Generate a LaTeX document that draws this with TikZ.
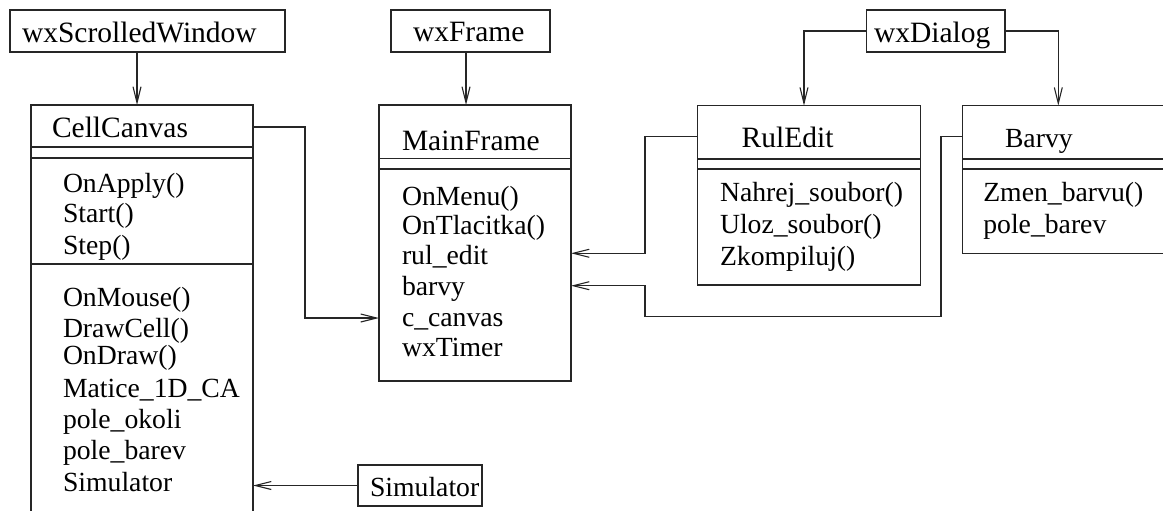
\documentclass[tikz,border=0pt]{standalone}
\usepackage{fontspec}
\setmainfont{Liberation Serif}
\usetikzlibrary{arrows.meta}
\newcommand\namefont{\fontsize{29.5}{35}\selectfont}
\newcommand\memberfont{\fontsize{27.7}{33}\selectfont}
\tikzset{
  ln/.style={line width=1.2pt, draw=black!85},
  classbox/.style={ln, rectangle, inner sep=0pt, outer sep=0pt, anchor=north west},
  txt/.style={anchor=base west, inner sep=0pt, outer sep=0pt},
  title/.style={txt, font=\namefont},
  member/.style={txt, font=\memberfont},
  conn/.style={ln, -{Straight Barb[length=16pt,width=8pt,line width=1.1pt]}},
}
\begin{document}
\begin{tikzpicture}[x=1pt,y=-1pt]
\useasboundingbox (0,0) rectangle (1163,511);
\clip (0,0) rectangle (1163,511);

% base classes
\node[classbox, minimum width=275pt, minimum height=42pt] (wxsw) at (10,10) {};
\node[title] (wxswT) at (22,42.3) {wxScrolledWindow};
\node[classbox, minimum width=159pt, minimum height=42pt] (wxframe) at (391,10) {};
\node[title] (wxframeT) at (413,41.7) {wxFrame};
\node[classbox, minimum width=138.3pt, minimum height=42pt] (wxdialog) at (866.7,10) {};
\node[title] (wxdialogT) at (874,42.7) {wxDialog};

% CellCanvas
\node[classbox, minimum width=222pt, minimum height=440pt] (cellcanvas) at (31,105) {};
\draw[ln] ([yshift=-42pt]cellcanvas.north west) -- ([yshift=-42pt]cellcanvas.north east);
\draw[ln] ([yshift=-53pt]cellcanvas.north west) -- ([yshift=-53pt]cellcanvas.north east);
\draw[ln] ([yshift=-159pt]cellcanvas.north west) -- ([yshift=-159pt]cellcanvas.north east);
\node[title] (ccT) at (52,137.3) {CellCanvas};
\node[member] (cc1) at (63,192) {OnApply()};
\node[member] (cc2) at (63,222.7) {Start()};
\node[member] (cc3) at (63,254) {Step()};
\node[member] (cc4) at (63,306.7) {OnMouse()};
\node[member] (cc5) at (63,337.3) {DrawCell()};
\node[member] (cc6) at (63,364.3) {OnDraw()};
\node[member] (cc7) at (63,397.3) {Matice\_1D\_CA};
\node[member] (cc8) at (63,428.3) {pole\_okoli};
\node[member] (cc9) at (63,459.3) {pole\_barev};
\node[member] (cc10) at (63,491.7) {Simulator};

% MainFrame
\node[classbox, minimum width=192pt, minimum height=276pt] (mainframe) at (379,105) {};
\draw[ln] ([yshift=-53.3pt]mainframe.north west) -- ([yshift=-53.3pt]mainframe.north east);
\draw[ln] ([yshift=-64pt]mainframe.north west) -- ([yshift=-64pt]mainframe.north east);
\node[title] (mfT) at (402,150) {MainFrame};
\node[member] (mf1) at (402,205) {OnMenu()};
\node[member] (mf2) at (402,234) {OnTlacitka()};
\node[member] (mf3) at (402,264) {rul\_edit};
\node[member] (mf4) at (402,295) {barvy};
\node[member] (mf5) at (402,326) {c\_canvas};
\node[member] (mf6) at (402,356.7) {wxTimer};

% RulEdit
\node[classbox, minimum width=223pt, minimum height=179.3pt] (ruledit) at (697.7,105.7) {};
\draw[ln] ([yshift=-53.3pt]ruledit.north west) -- ([yshift=-53.3pt]ruledit.north east);
\draw[ln] ([yshift=-63.3pt]ruledit.north west) -- ([yshift=-63.3pt]ruledit.north east);
\node[title] (reT) at (741.7,147.7) {RulEdit};
\node[member] (re1) at (720,201.7) {Nahrej\_soubor()};
\node[member] (re2) at (720,233.3) {Uloz\_soubor()};
\node[member] (re3) at (720,265) {Zkompiluj()};

% Barvy
\node[classbox, minimum width=240pt, minimum height=147.6pt] (barvy) at (962.3,105.7) {};
\draw[ln] ([yshift=-53.3pt]barvy.north west) -- ([yshift=-53.3pt]barvy.north east);
\draw[ln] ([yshift=-63.3pt]barvy.north west) -- ([yshift=-63.3pt]barvy.north east);
\node[member] (bvT) at (1005,147.7) {Barvy};
\node[member] (bv1) at (983.3,201.7) {Zmen\_barvu()};
\node[member] (bv2) at (983.3,233.3) {pole\_barev};

% Simulator
\node[classbox, minimum width=124pt, minimum height=41pt] (simulator) at (358,465) {};
\node[member] (simT) at (370,496) {Simulator};

% inheritance
\draw[conn] (wxsw.south -| 137,0) -- (cellcanvas.north -| 137,0);
\draw[conn] (wxframe.south -| 466,0) -- (mainframe.north -| 466,0);
\draw[conn] (wxdialog.west) -| (ruledit.north -| 804,0);
\draw[conn] (wxdialog.east) -| (barvy.north -| 1058.3,0);

% members
\draw[conn] (cellcanvas.east |- 0,127) -- (305,127) |- (mainframe.west |- 0,318);
\draw[conn] (ruledit.west |- 0,136.7) -- (645,136.7) |- (mainframe.east |- 0,253.3);
\draw[conn] (barvy.west |- 0,136.7) -- (941,136.7) -- (941,316.7) -- (645,316.7) -- (645,285.7) -- (mainframe.east |- 0,285.7);
\draw[conn] (simulator.west) -- (cellcanvas.east |- simulator.west);
\end{tikzpicture}
\end{document}
